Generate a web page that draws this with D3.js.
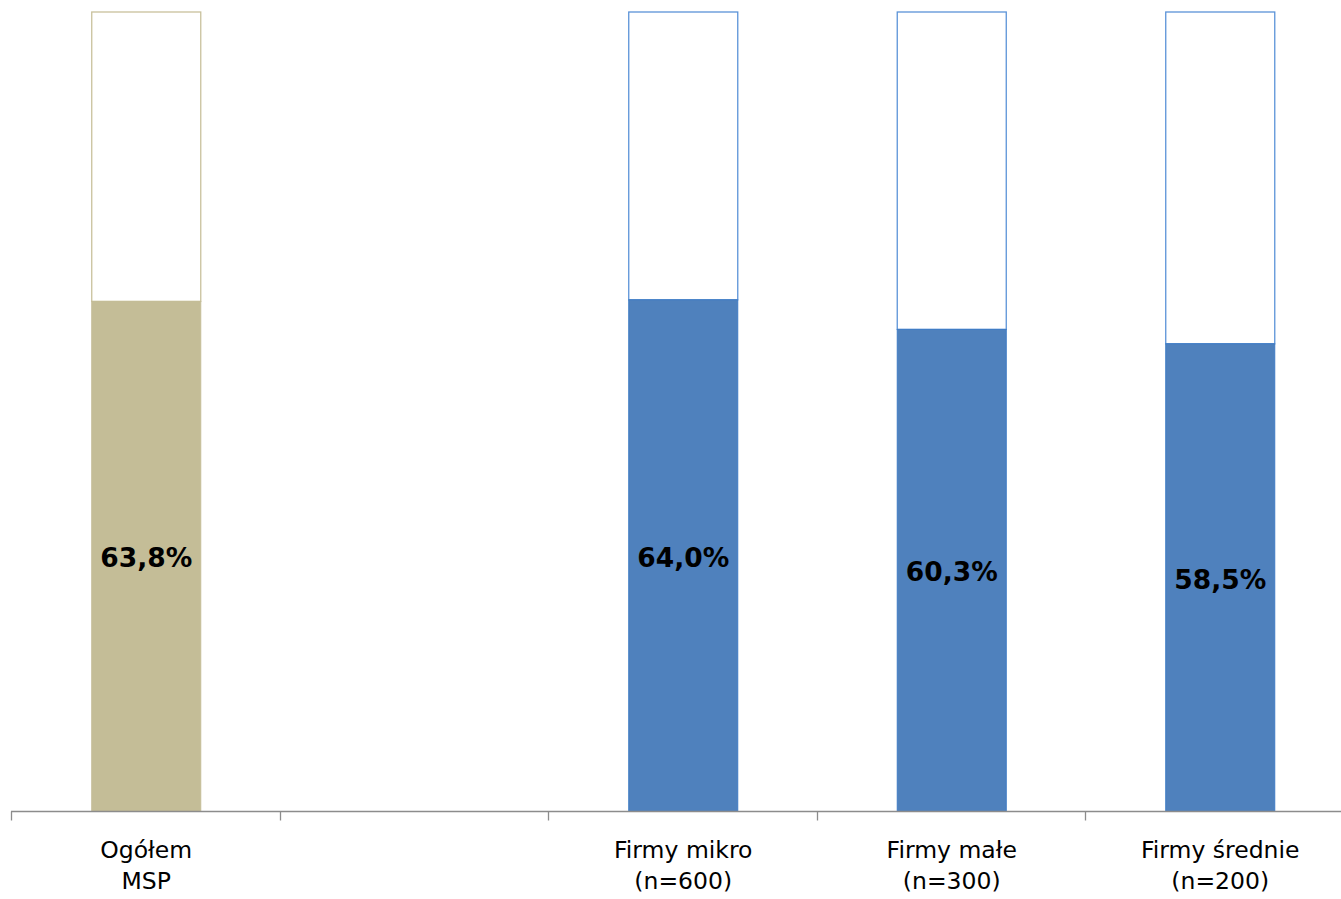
<!DOCTYPE html>
<meta charset="utf-8">
<script src="https://cdn.jsdelivr.net/npm/d3@7"></script>
<style>
    body { margin: 0; background: #fff; }
    .axis path, .axis line { fill: none; stroke: #8c8c8c; stroke-width: 1.3; }
    .cat { font-family: "DejaVu Sans", sans-serif; font-size: 23.5px; fill: #000; }
    .val { font-family: "DejaVu Sans", sans-serif; font-size: 26.5px; font-weight: bold; fill: #000; }
</style>
<body>
<script>

    // categories (empty slot is a spacer in the original chart)
    var categories = ["Ogółem MSP", "gap", "Firmy mikro (n=600)", "Firmy małe (n=300)", "Firmy średnie (n=200)"]
    var labelLines = [["Ogółem", "MSP"], [], ["Firmy mikro", "(n=600)"], ["Firmy małe", "(n=300)"], ["Firmy średnie", "(n=200)"]]
    var values = [63.8, null, 64.0, 60.3, 58.5]
    var valueLabels = ["63,8%", "", "64,0%", "60,3%", "58,5%"]
    var fills = ["#C4BD97", null, "#4F81BD", "#4F81BD", "#4F81BD"]
    var strokes = ["#C9C19C", null, "#5B93D8", "#5B93D8", "#5B93D8"]

    var W = 1341, H = 899
    var mLeft = 12, mRight = 1354.5, mTop = 12, base = 811.5

    var svg = d3.select("body").append("svg").attr("width", W).attr("height", H)

    var x = d3.scaleBand().domain(categories).range([mLeft, mRight]).paddingInner(0.594).paddingOuter(0.297)
    var y = d3.scaleLinear().domain([0, 100]).range([base, mTop])

    var data = categories.map((c, i) => ({cat: c, v: values[i], lab: valueLabels[i], fill: fills[i], stroke: strokes[i], lines: labelLines[i]}))
        .filter(d => d.v != null)

    // remainder (white, outlined)
    svg.selectAll(".rest").data(data).enter().append("rect")
        .attr("x", d => x(d.cat)).attr("width", x.bandwidth())
        .attr("y", y(100)).attr("height", d => y(d.v) - y(100))
        .style("fill", "#fff").style("stroke", d => d.stroke).style("stroke-width", 1.3)

    // value part
    svg.selectAll(".bar").data(data).enter().append("rect")
        .attr("x", d => x(d.cat)).attr("width", x.bandwidth())
        .attr("y", d => y(d.v)).attr("height", d => y(0) - y(d.v))
        .style("fill", d => d.fill).style("stroke", d => d.fill === "#4F81BD" ? "#3F7CC4" : d.fill).style("stroke-width", 1)

    // axis with ticks at band edges
    var g = svg.append("g").attr("class", "axis")
    g.append("line").attr("x1", 11).attr("x2", W).attr("y1", base).attr("y2", base)
    categories.forEach((c, i) => {
        var tx = Math.round(x(c) - x.step() * x.paddingInner() / 2) - 0.5
        g.append("line").attr("x1", tx).attr("x2", tx).attr("y1", base).attr("y2", base + 9)
    })

    // value labels
    svg.selectAll(".val").data(data).enter().append("text").attr("class", "val")
        .attr("x", d => x(d.cat) + x.bandwidth() / 2)
        .attr("y", d => (y(d.v) + y(0)) / 2 + 11)
        .attr("text-anchor", "middle").text(d => d.lab)

    // category labels
    data.forEach(d => {
        d.lines.forEach((t, j) => {
            svg.append("text").attr("class", "cat")
                .attr("x", x(d.cat) + x.bandwidth() / 2)
                .attr("y", 858 + j * 31)
                .attr("text-anchor", "middle").text(t)
        })
    })

</script>
</body>
